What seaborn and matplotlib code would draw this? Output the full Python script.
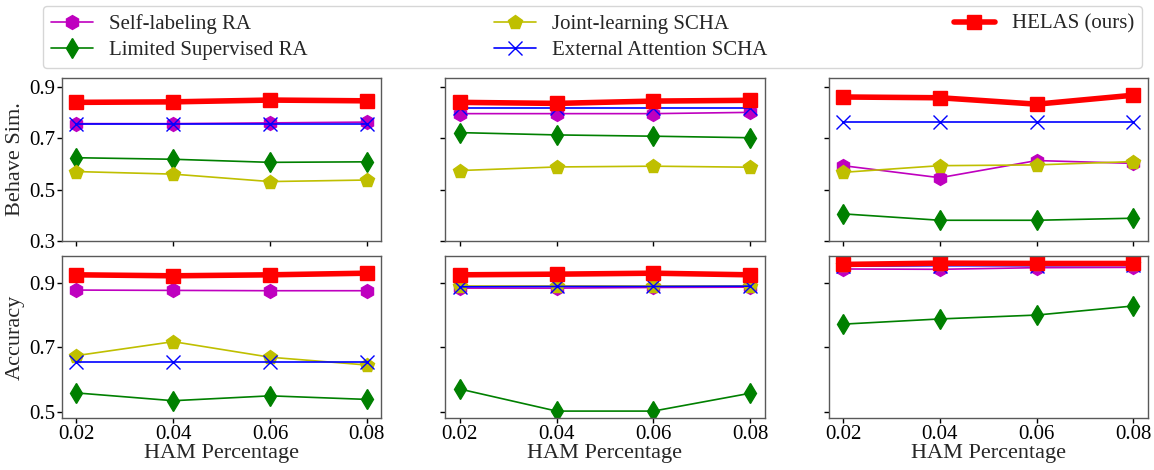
import matplotlib
matplotlib.use("Agg")
import matplotlib.pyplot as plt
import seaborn as sns
import pandas as pd

# HAM percentage on the x axis
ham_pct = [0.02, 0.04, 0.06, 0.08]

methods = ["Self-labeling RA", "Limited Supervised RA", "Joint-learning SCHA",
           "External Attention SCHA", "HELAS (ours)"]

# Behave Sim. (top row), one list per panel and method
behave_p1_self = [0.757, 0.757, 0.760, 0.763]
behave_p1_limited = [0.624, 0.618, 0.606, 0.608]
behave_p1_joint = [0.570, 0.560, 0.531, 0.537]
behave_p1_external = [0.754, 0.754, 0.754, 0.754]
behave_p1_helas = [0.840, 0.842, 0.849, 0.846]

behave_p2_self = [0.796, 0.796, 0.796, 0.801]
behave_p2_limited = [0.722, 0.713, 0.708, 0.702]
behave_p2_joint = [0.574, 0.588, 0.591, 0.587]
behave_p2_external = [0.819, 0.819, 0.819, 0.819]
behave_p2_helas = [0.840, 0.836, 0.845, 0.848]

behave_p3_self = [0.593, 0.546, 0.613, 0.602]
behave_p3_limited = [0.405, 0.380, 0.380, 0.388]
behave_p3_joint = [0.567, 0.593, 0.596, 0.609]
behave_p3_external = [0.765, 0.765, 0.765, 0.765]
behave_p3_helas = [0.861, 0.858, 0.833, 0.868]

# Accuracy (bottom row)
acc_p1_self = [0.877, 0.876, 0.875, 0.875]
acc_p1_limited = [0.560, 0.536, 0.551, 0.540]
acc_p1_joint = [0.675, 0.718, 0.670, 0.646]
acc_p1_external = [0.655, 0.655, 0.655, 0.655]
acc_p1_helas = [0.924, 0.921, 0.924, 0.929]

acc_p2_self = [0.883, 0.883, 0.885, 0.886]
acc_p2_limited = [0.572, 0.504, 0.504, 0.559]
acc_p2_joint = [0.888, 0.888, 0.888, 0.888]
acc_p2_external = [0.887, 0.888, 0.888, 0.889]
acc_p2_helas = [0.924, 0.926, 0.929, 0.924]

acc_p3_self = [0.942, 0.941, 0.946, 0.947]
acc_p3_limited = [0.772, 0.788, 0.800, 0.828]
acc_p3_joint = [0.955, 0.956, 0.956, 0.956]
acc_p3_external = [0.951, 0.952, 0.952, 0.953]
acc_p3_helas = [0.956, 0.960, 0.959, 0.959]

behave_rows = [
    [behave_p1_self, behave_p1_limited, behave_p1_joint, behave_p1_external, behave_p1_helas],
    [behave_p2_self, behave_p2_limited, behave_p2_joint, behave_p2_external, behave_p2_helas],
    [behave_p3_self, behave_p3_limited, behave_p3_joint, behave_p3_external, behave_p3_helas],
]
acc_rows = [
    [acc_p1_self, acc_p1_limited, acc_p1_joint, acc_p1_external, acc_p1_helas],
    [acc_p2_self, acc_p2_limited, acc_p2_joint, acc_p2_external, acc_p2_helas],
    [acc_p3_self, acc_p3_limited, acc_p3_joint, acc_p3_external, acc_p3_helas],
]

styles = {
    "Self-labeling RA": dict(color="m", marker="h", lw=1.2),
    "Limited Supervised RA": dict(color="g", marker="d", lw=1.2),
    "Joint-learning SCHA": dict(color="y", marker="p", lw=1.2),
    "External Attention SCHA": dict(color="b", marker="x", lw=1.2),
    "HELAS (ours)": dict(color="r", marker="s", lw=4.0),
}

sns.set_style("ticks")
plt.rcParams["font.family"] = ["Liberation Serif", "DejaVu Serif"]
plt.rcParams["axes.edgecolor"] = "0.35"
plt.rcParams["xtick.color"] = "black"
plt.rcParams["ytick.color"] = "black"

fig, axes = plt.subplots(2, 3, figsize=(11.54, 4.70), dpi=100,
                         sharex=True, sharey="row")
fig.subplots_adjust(left=0.0537, right=0.9948, top=0.834, bottom=0.1096,
                    wspace=0.2, hspace=0.092)


def draw_panel(ax, series):
    for name, vals in zip(methods, series):
        st = styles[name]
        df = pd.DataFrame({"x": ham_pct, "y": vals})
        sns.lineplot(data=df, x="x", y="y", ax=ax, color=st["color"],
                     marker=st["marker"], markersize=10, linewidth=st["lw"],
                     markeredgecolor=st["color"], markeredgewidth=1.0,
                     label=name, legend=False)


for col in range(3):
    draw_panel(axes[0, col], behave_rows[col])
    draw_panel(axes[1, col], acc_rows[col])

for ax in axes.flat:
    for s in ax.spines.values():
        s.set_visible(True)
        s.set_linewidth(1.0)
    ax.tick_params(labelsize=15, length=3.5, width=1, pad=1.5)
    ax.set_xlabel("")
    ax.set_ylabel("")

axes[0, 0].set_ylim(0.3, 0.935)
axes[0, 0].set_yticks([0.3, 0.5, 0.7, 0.9])
axes[1, 0].set_yticks([0.5, 0.7, 0.9])
axes[1, 0].set_xticks(ham_pct)
axes[1, 0].set_xticklabels(["0.02", "0.04", "0.06", "0.08"])

axes[0, 0].set_ylabel("Behave Sim.", fontsize=16, labelpad=3)
axes[1, 0].set_ylabel("Accuracy", fontsize=16, labelpad=3)
for col in range(3):
    axes[1, col].set_xlabel("HAM Percentage", fontsize=16, labelpad=0)

handles, labels = axes[0, 0].get_legend_handles_labels()
fig.legend(handles, labels, loc="lower left", ncol=3, mode="expand",
           bbox_to_anchor=(0.037, 0.855, 0.953, 0.136), borderaxespad=0,
           fontsize=15, frameon=True, fancybox=True, edgecolor="0.8",
           labelspacing=0.3)

fig.savefig("out.png", dpi=100)
